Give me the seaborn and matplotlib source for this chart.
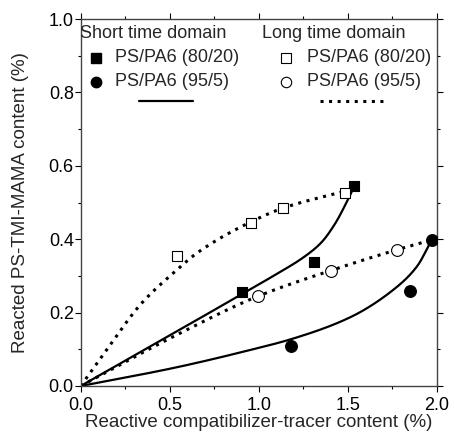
"""
Reacted PS-TMI-MAMA content vs reactive compatibilizer-tracer content,
short vs long time domain, two PS/PA6 blends.
"""

import matplotlib
matplotlib.use("Agg")
import matplotlib.pyplot as plt
from matplotlib.ticker import MultipleLocator
import numpy as np
import pandas as pd
import seaborn as sns

# -----------------------------------------------------------------------------
# Data
# -----------------------------------------------------------------------------
short_8020_x = [0.908, 1.312, 1.537]
short_8020_y = [0.257, 0.339, 0.545]
short_955_x = [1.183, 1.850, 1.975]
short_955_y = [0.109, 0.260, 0.398]
long_8020_x = [0.543, 0.955, 1.138, 1.487]
long_8020_y = [0.355, 0.445, 0.484, 0.527]
long_955_x = [0.998, 1.404, 1.775]
long_955_y = [0.246, 0.312, 0.371]

# guide curves (control points read from the drawn fits)
curve_s8020_x = [0.0, 0.45, 0.904, 1.10, 1.25, 1.35, 1.43, 1.49, 1.541]
curve_s8020_y = [0.0, 0.124, 0.250, 0.305, 0.350, 0.390, 0.443, 0.497, 0.548]
curve_s955_x = [0.0, 0.53, 0.951, 1.185, 1.513, 1.756, 1.888, 1.972]
curve_s955_y = [0.0, 0.050, 0.098, 0.128, 0.187, 0.262, 0.325, 0.398]
curve_l8020_x = [0.0, 0.155, 0.343, 0.53, 0.661, 0.951, 1.138, 1.51]
curve_l8020_y = [0.0, 0.105, 0.226, 0.312, 0.365, 0.446, 0.485, 0.534]
curve_l955_x = [0.0, 0.53, 0.998, 1.401, 1.775, 1.972]
curve_l955_y = [0.0, 0.137, 0.245, 0.314, 0.371, 0.398]


def pchip(xs, ys, n=300):
    """Monotone cubic Hermite curve through the control points."""
    x = np.asarray(xs, float)
    y = np.asarray(ys, float)
    h = np.diff(x)
    d = np.diff(y) / h
    m = np.empty_like(x)
    m[0], m[-1] = d[0], d[-1]
    for k in range(1, len(x) - 1):
        if d[k - 1] * d[k] <= 0:
            m[k] = 0.0
        else:
            w1 = 2 * h[k] + h[k - 1]
            w2 = h[k] + 2 * h[k - 1]
            m[k] = (w1 + w2) / (w1 / d[k - 1] + w2 / d[k])
    xx = np.linspace(x[0], x[-1], n)
    idx = np.clip(np.searchsorted(x, xx) - 1, 0, len(x) - 2)
    t = (xx - x[idx]) / h[idx]
    h00 = 2 * t ** 3 - 3 * t ** 2 + 1
    h10 = t ** 3 - 2 * t ** 2 + t
    h01 = -2 * t ** 3 + 3 * t ** 2
    h11 = t ** 3 - t ** 2
    yy = (h00 * y[idx] + h10 * h[idx] * m[idx]
          + h01 * y[idx + 1] + h11 * h[idx] * m[idx + 1])
    return xx, yy


sns.set_theme(style="ticks")
plt.rcParams["font.family"] = ["Liberation Sans", "DejaVu Sans"]

DOTS = (0, (1.0, 1.8))
FS = 13

fig = plt.figure(figsize=(4.54, 4.34), dpi=100)
ax = fig.add_axes([80.7 / 454, 1 - 386 / 434, 356 / 454, 367 / 434])

# fitted curves
for cx, cy, ls in [
    (curve_s8020_x, curve_s8020_y, "-"),
    (curve_s955_x, curve_s955_y, "-"),
    (curve_l8020_x, curve_l8020_y, DOTS),
    (curve_l955_x, curve_l955_y, DOTS),
]:
    sx, sy = pchip(cx, cy)
    sns.lineplot(x=sx, y=sy, ax=ax, color="black", linestyle=ls,
                 linewidth=1.6 if ls == "-" else 2.2, sort=False,
                 estimator=None)

# data points
pts = [
    (short_8020_x, short_8020_y, "s", "black", 7.5),
    (short_955_x, short_955_y, "o", "black", 8.5),
    (long_8020_x, long_8020_y, "s", "white", 7.5),
    (long_955_x, long_955_y, "o", "white", 8.5),
]
for px, py, m, fc, ms in pts:
    df = pd.DataFrame({"x": px, "y": py})
    sns.scatterplot(data=df, x="x", y="y", ax=ax, marker=m, color=fc,
                    edgecolor="black", linewidth=0.8, s=ms ** 2, zorder=5)

ax.set_xlim(0, 2.0)
ax.set_ylim(0, 1.0)
ax.xaxis.set_major_locator(MultipleLocator(0.5))
ax.xaxis.set_minor_locator(MultipleLocator(0.25))
ax.yaxis.set_major_locator(MultipleLocator(0.2))
ax.yaxis.set_minor_locator(MultipleLocator(0.1))
ax.set_xticklabels([f"{v:.1f}" for v in ax.get_xticks()])
ax.set_yticklabels([f"{v:.1f}" for v in ax.get_yticks()])
ax.tick_params(which="both", direction="out", top=True, right=True,
               labelsize=FS, colors="black", width=0.8)
ax.tick_params(which="major", length=4)
ax.tick_params(axis="x", which="major", pad=4)
ax.tick_params(axis="y", which="major", pad=1)
ax.tick_params(which="minor", length=2.5)
for sp in ax.spines.values():
    sp.set_visible(True)
    sp.set_color("#444444")
    sp.set_linewidth(1.0)

ax.set_xlabel("Reactive compatibilizer-tracer content (%)", fontsize=13.5,
              labelpad=0)
ax.set_ylabel("Reacted PS-TMI-MAMA content (%)", fontsize=13.5, labelpad=14)


# hand-built legend in figure pixel coords
def fx(px):
    return px / 454


def fy(py):
    return 1 - py / 434


fig.text(fx(80), fy(33), "Short time domain", fontsize=FS, va="center")
fig.text(fx(262), fy(33), "Long time domain", fontsize=FS, va="center")
fig.text(fx(115), fy(57), "PS/PA6 (80/20)", fontsize=FS, va="center")
fig.text(fx(115), fy(81), "PS/PA6 (95/5)", fontsize=FS, va="center")
fig.text(fx(307), fy(57), "PS/PA6 (80/20)", fontsize=FS, va="center")
fig.text(fx(307), fy(81), "PS/PA6 (95/5)", fontsize=FS, va="center")
fig.lines.append(plt.Line2D([fx(96)], [fy(58)], marker="s", color="black",
                            markersize=6.5, transform=fig.transFigure))
fig.lines.append(plt.Line2D([fx(96)], [fy(82)], marker="o", color="black",
                            markersize=7.5, transform=fig.transFigure))
fig.lines.append(plt.Line2D([fx(286)], [fy(58)], marker="s", color="black",
                            markerfacecolor="white", markersize=6.5,
                            markeredgewidth=0.8, transform=fig.transFigure))
fig.lines.append(plt.Line2D([fx(286)], [fy(82)], marker="o", color="black",
                            markerfacecolor="white", markersize=7.5,
                            markeredgewidth=0.8, transform=fig.transFigure))
fig.lines.append(plt.Line2D([fx(139), fx(193)], [fy(101), fy(101)],
                            color="black", linewidth=1.6,
                            transform=fig.transFigure))
fig.lines.append(plt.Line2D([fx(320), fx(384)], [fy(101), fy(101)],
                            color="black", linewidth=2.2, linestyle=DOTS,
                            transform=fig.transFigure))

fig.savefig("out.png", dpi=100)
